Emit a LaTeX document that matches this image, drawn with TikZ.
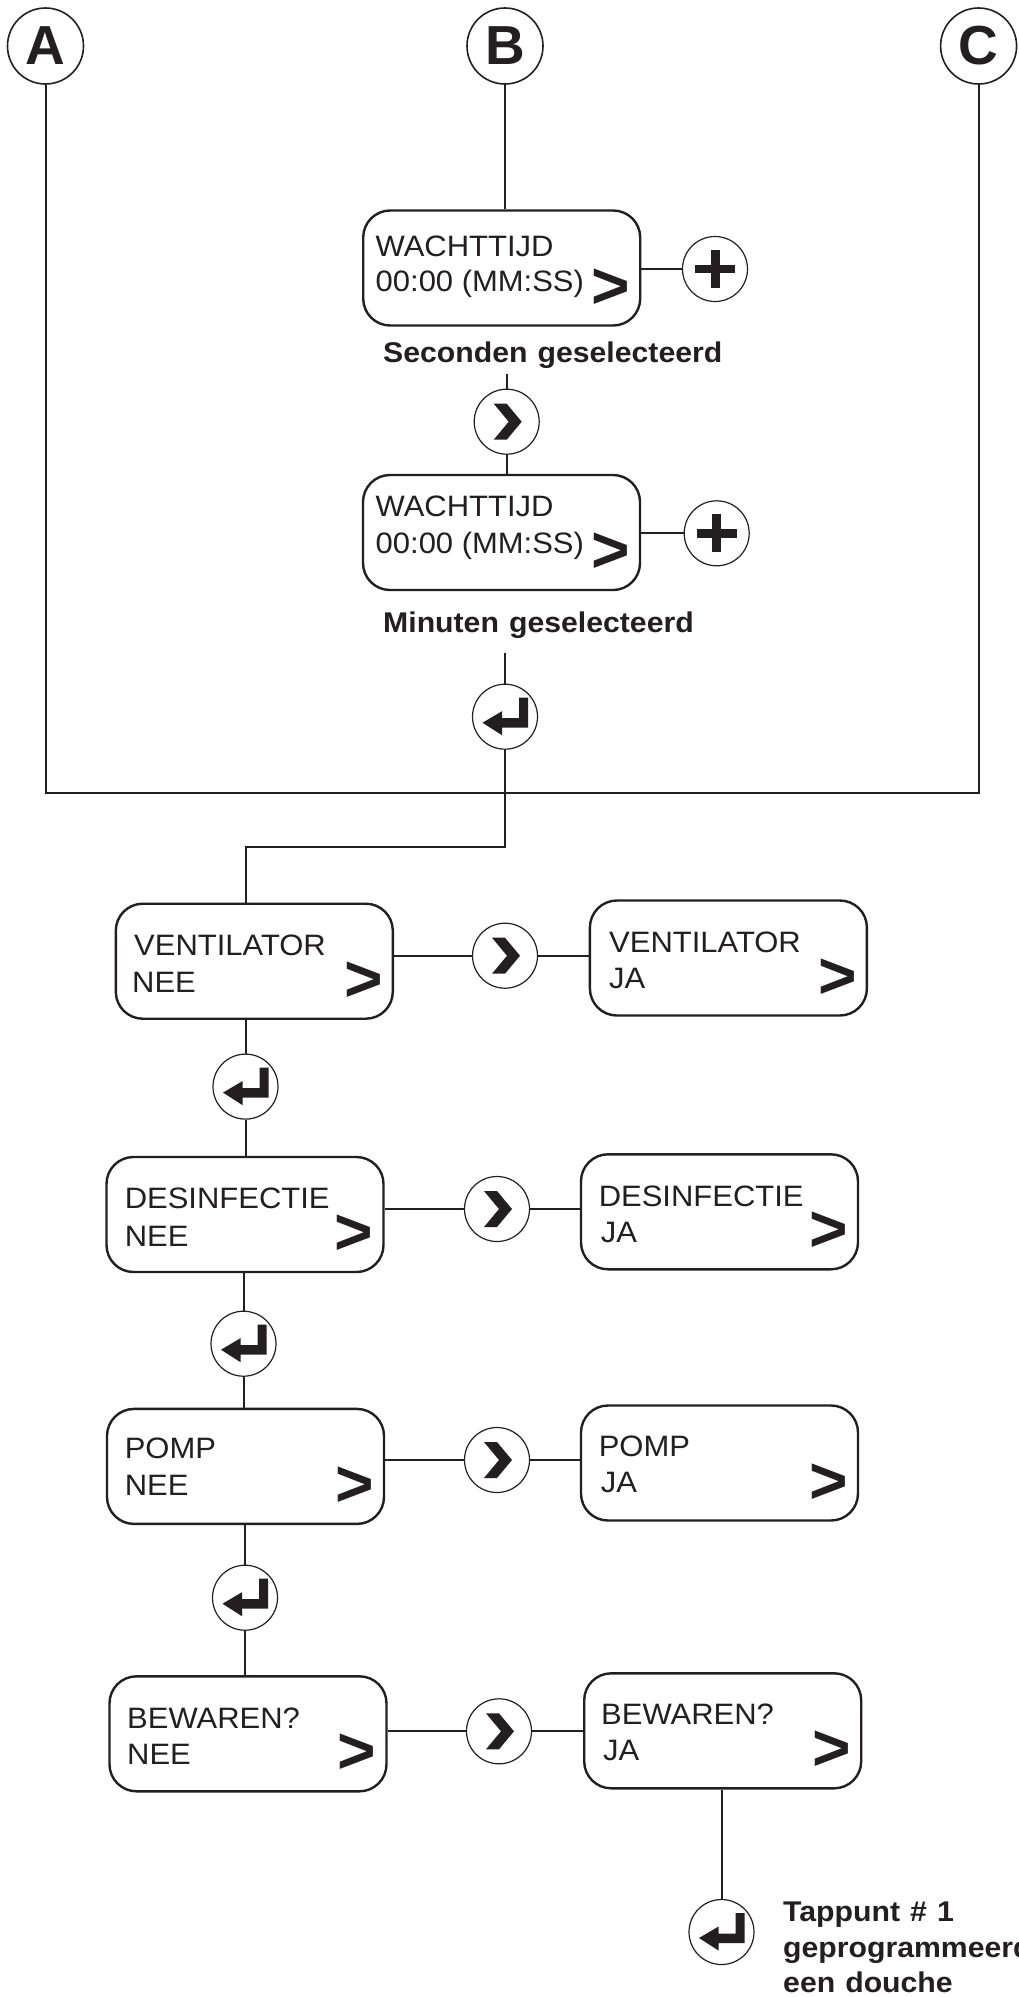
\documentclass[tikz,border=0pt]{standalone}
\usepackage{fontspec}
\setmainfont{Liberation Sans}
\definecolor{ink}{HTML}{231F20}
\tikzset{
  enter/.pic={\fill[ink] (23,-19) -- (23,11) -- (-3,11) -- (-3,18.5) -- (-22.5,6) -- (-3,-5.5) -- (-3,1.5) -- (14,1.5) -- (14,-19) -- cycle;},
  chev/.pic={\fill[ink] (-13,-18) -- (0,-18) -- (15,0) -- (0,18) -- (-13,18) -- (2,0) -- cycle;},
  plussign/.pic={\fill[ink] (-20,-4.3) rectangle (20,4.3); \fill[ink] (-4.5,-19) rectangle (4.5,19);},
  conn/.style={draw=ink, line width=2},
  lcd/.style={draw=ink, line width=2.4, rounded corners=27, minimum width=277, minimum height=115, inner sep=0},
  ring/.style={circle, draw=ink, line width=1.2, minimum size=65, inner sep=0},
  tag/.style={circle, draw=ink, line width=1.6, minimum size=76, inner sep=0, text=ink, font=\bfseries\fontsize{55}{55}\selectfont},
  ltxt/.style={anchor=base west, inner sep=0, text=ink, font=\fontsize{29.5}{29.5}\selectfont},
  gtxt/.style={anchor=base west, inner sep=0, text=ink, font=\bfseries\fontsize{66}{66}\selectfont},
  ctxt/.style={anchor=base west, inner sep=0, text=ink, font=\bfseries\fontsize{28.5}{28.5}\selectfont},
}
\newcommand{\wide}[1]{\scalebox{1.06}[1]{\spaceskip=9.5pt #1}}
\newcommand{\lcdw}[1]{\scalebox{1.05}[1]{#1}}
\begin{document}
\begin{tikzpicture}[x=1pt,y=-1pt]
\fill[white] (0,0) rectangle (1018,1997);
\useasboundingbox (0,0) rectangle (1018,1997);

% top tags
\node[tag] (A) at (45.5,46) {A};
\node[tag] (B) at (505,46) {B};
\node[tag] (C) at (978.6,46) {C};

% WACHTTIJD boxes
\node[lcd] (W1) at (501.7,268) {};
\node[ltxt] (w1a) at (375.5,256.7) {\lcdw{WACHTTIJD}};
\node[ltxt] (w1b) at (375.5,291.7) {\lcdw{00:00 (MM:SS)}};
\node[gtxt] (w1g) at ([shift={(-50,-18.6)}]W1.south east) {>};
\node[ring] (P1) at (715,269) {};
\pic at (P1) {plussign};
\node[ctxt] (cap1) at (383,362.7) {\wide{Seconden geselecteerd}};
\coordinate (s1top) at (506.7,374.3);
\node[ring] (S1) at (506.7,421.7) {};
\pic at (S1) {chev};

\node[lcd] (W2) at (501.5,532.5) {};
\node[ltxt] (w2a) at (375.5,516.7) {\lcdw{WACHTTIJD}};
\node[ltxt] (w2b) at (375.5,553.3) {\lcdw{00:00 (MM:SS)}};
\node[gtxt] (w2g) at ([shift={(-50,-18.6)}]W2.south east) {>};
\node[ring] (P2) at (716.7,533.3) {};
\pic at (P2) {plussign};
\node[ctxt] (cap2) at (383,632.7) {\wide{Minuten geselecteerd}};
\coordinate (e0top) at (505,652.7);
\node[ring] (E0) at (505,716.7) {};
\pic at (E0) {enter};

\coordinate (J) at (505,793);
\coordinate (K) at (505,846.7);

% VENTILATOR
\node[lcd] (VN) at (254.3,961.2) {};
\node[ltxt] (vna) at (134,955) {\lcdw{VENTILATOR}};
\node[ltxt] (vnb) at (132,992) {\lcdw{NEE}};
\node[gtxt] (vng) at ([shift={(-50,-18.6)}]VN.south east) {>};
\node[ring] (S2) at (505,955.7) {};
\pic at (S2) {chev};
\node[lcd] (VJ) at (728.4,958) {};
\node[ltxt] (vja) at (609,952.7) {\lcdw{VENTILATOR}};
\node[ltxt] (vjb) at (609,988) {\lcdw{JA}};
\node[gtxt] (vjg) at ([shift={(-50,-18.6)}]VJ.south east) {>};
\node[ring] (E1) at (245.5,1086.6) {};
\pic at (E1) {enter};

% DESINFECTIE
\node[lcd] (DN) at (245,1214.5) {};
\node[ltxt] (dna) at (124.6,1208.5) {\lcdw{DESINFECTIE}};
\node[ltxt] (dnb) at (124.6,1246.4) {\lcdw{NEE}};
\node[gtxt] (dng) at ([shift={(-50,-18.6)}]DN.south east) {>};
\node[ring] (S3) at (497,1209) {};
\pic at (S3) {chev};
\node[lcd] (DJ) at (719.5,1211.8) {};
\node[ltxt] (dja) at (598.6,1206) {\lcdw{DESINFECTIE}};
\node[ltxt] (djb) at (600.6,1242) {\lcdw{JA}};
\node[gtxt] (djg) at ([shift={(-50,-18.6)}]DJ.south east) {>};
\node[ring] (E2) at (243.5,1343.7) {};
\pic at (E2) {enter};

% POMP
\node[lcd] (PN) at (245.5,1466.4) {};
\node[ltxt] (pna) at (124.6,1458.5) {\lcdw{POMP}};
\node[ltxt] (pnb) at (124.6,1495.5) {\lcdw{NEE}};
\node[gtxt] (png) at ([shift={(-50,-18.6)}]PN.south east) {>};
\node[ring] (S4) at (497,1460) {};
\pic at (S4) {chev};
\node[lcd] (PJ) at (719.5,1463) {};
\node[ltxt] (pja) at (598.6,1456) {\lcdw{POMP}};
\node[ltxt] (pjb) at (600.6,1492.5) {\lcdw{JA}};
\node[gtxt] (pjg) at ([shift={(-50,-18.6)}]PJ.south east) {>};
\node[ring] (E3) at (245,1597.7) {};
\pic at (E3) {enter};

% BEWAREN
\node[lcd] (BN) at (248,1733.8) {};
\node[ltxt] (bna) at (127,1728.7) {\lcdw{BEWAREN?}};
\node[ltxt] (bnb) at (127,1764.3) {\lcdw{NEE}};
\node[gtxt] (bng) at ([shift={(-50,-18.6)}]BN.south east) {>};
\node[ring] (S5) at (499,1731.3) {};
\pic at (S5) {chev};
\node[lcd] (BJ) at (722.7,1730.8) {};
\node[ltxt] (bja) at (601,1724.7) {\lcdw{BEWAREN?}};
\node[ltxt] (bjb) at (603,1760.3) {\lcdw{JA}};
\node[gtxt] (bjg) at ([shift={(-50,-18.6)}]BJ.south east) {>};
\node[ring] (E4) at (721.5,1932) {};
\pic at (E4) {enter};
\node[ctxt] (t1) at (783,1921.5) {\wide{Tappunt \# 1}};
\node[ctxt] (t2) at (783,1957) {\wide{geprogrammeerd}};
\node[ctxt] (t3) at (783,1992.5) {\wide{een douche}};

% connectors
\draw[conn] (A.south) -- (A.south |- J) -- (C.south |- J) -- (C.south);
\draw[conn] (B.south) -- (B.south |- W1.north);
\draw[conn] (W1.east |- P1) -- (P1.west);
\draw[conn] (s1top) -- (S1.north);
\draw[conn] (S1.south) -- (S1.south |- W2.north);
\draw[conn] (W2.east |- P2) -- (P2.west);
\draw[conn] (e0top) -- (E0.north);
\draw[conn] (E0.south) -- (K) -- (E1 |- K) -- (E1 |- VN.north);
\draw[conn] (VN.east |- S2) -- (S2.west);
\draw[conn] (S2.east) -- (VJ.west |- S2);
\draw[conn] (E1 |- VN.south) -- (E1.north);
\draw[conn] (E1.south) -- (E1 |- DN.north);
\draw[conn] (DN.east |- S3) -- (S3.west);
\draw[conn] (S3.east) -- (DJ.west |- S3);
\draw[conn] (E2 |- DN.south) -- (E2.north);
\draw[conn] (E2.south) -- (E2 |- PN.north);
\draw[conn] (PN.east |- S4) -- (S4.west);
\draw[conn] (S4.east) -- (PJ.west |- S4);
\draw[conn] (E3 |- PN.south) -- (E3.north);
\draw[conn] (E3.south) -- (E3 |- BN.north);
\draw[conn] (BN.east |- S5) -- (S5.west);
\draw[conn] (S5.east) -- (BJ.west |- S5);
\draw[conn] (E4 |- BJ.south) -- (E4.north);
\end{tikzpicture}
\end{document}
